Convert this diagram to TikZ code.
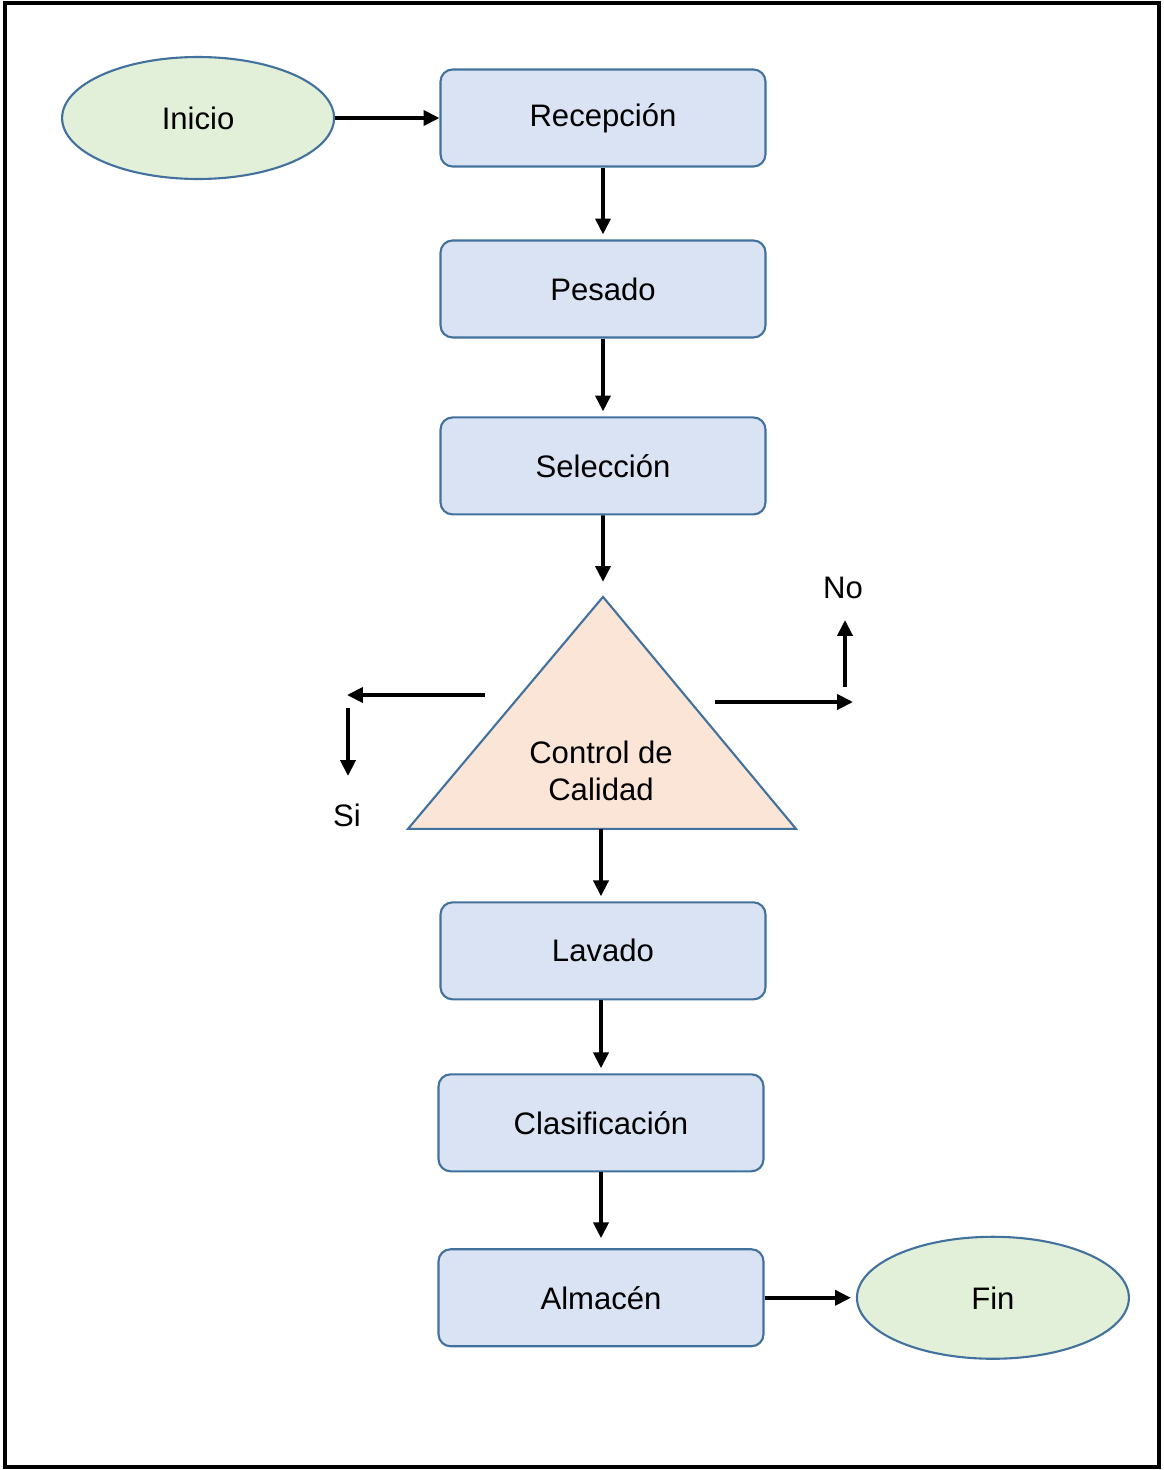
\documentclass[tikz,border=0pt]{standalone}
\usepackage{fontspec}
\setmainfont{Liberation Sans}
\usepackage{tikz}
\usetikzlibrary{arrows.meta}
\usetikzlibrary{shapes,shapes.geometric,calc,positioning}

\definecolor{boxfill}{HTML}{DAE3F3}
\definecolor{boxline}{HTML}{41719C}
\definecolor{endfill}{HTML}{E2F0D9}
\definecolor{ctrlfill}{HTML}{FBE5D6}

\tikzset{
  paso/.style={rectangle, rounded corners=0.24cm, draw=boxline, line width=1.2pt,
    fill=boxfill, minimum width=6.5cm, minimum height=1.94cm, inner sep=0pt},
  extremo/.style={ellipse, draw=boxline, line width=1.2pt, fill=endfill,
    minimum width=5.44cm, minimum height=2.44cm, inner sep=0pt},
  flecha/.style={->, line width=2.1pt},
}

\begin{document}
\begin{tikzpicture}[x=0.02cm,y=-0.02cm,>={Triangle[length=9pt,width=8.5pt]},node distance=3.48cm,
  font=\fontsize{17.7}{21}\selectfont]
\useasboundingbox (0,0) rectangle (1163,1470);
\draw[line width=2pt] (5,3) rectangle (1159,1467);

\node[paso] (rec) at (603,118) {Recepción};
\node[paso] (pes) [below of = rec, node distance=3.42cm] {Pesado};
\node[paso] (sel) [below of = pes, node distance=3.54cm] {Selección};
\node[align=center] (cal) [below of = sel, node distance=6.1cm, xshift=-0.04cm] {};
\coordinate (apex) at ($(cal)+(2,-174)$);
\coordinate (bl) at ($(cal)+(-193,58)$);
\coordinate (br) at ($(cal)+(195,58)$);
\coordinate (base) at ($(cal)+(0,58)$);
\draw[draw=boxline, line width=1.2pt, fill=ctrlfill] (apex) -- (bl) -- (br) -- cycle;
\node[align=center] at (cal) {Control de\\Calidad};
\node[paso] (lav) [below of = sel, node distance=9.7cm] {Lavado};
\node[paso] (cla) [below of = lav, node distance=3.44cm, xshift=-0.04cm] {Clasificación};
\node[paso] (alm) [below of = cla, node distance=3.5cm] {Almacén};

\node[extremo] (ini) [left of = rec, node distance=8.1cm] {Inicio};
\node[extremo] (fin) [right of = alm, node distance=7.84cm] {Fin};

\node (si) at (347,815) {Si};
\node (no) at (843,588) {No};

\coordinate (si1) at (485,695);
\coordinate (si2) at (347,695);
\coordinate (si3) at (348,708);
\coordinate (si4) at (348,776);
\coordinate (no1) at (715,702);
\coordinate (no2) at (853,702);
\coordinate (no3) at (845,687);
\coordinate (no4) at (845,620);

\draw[flecha] (ini) -- (rec);
\draw[flecha, shorten >=0.1cm] (rec) -- (pes);
\draw[flecha, shorten >=0.1cm] (pes) -- (sel);
\draw[flecha, shorten >=0.3cm] (sel) -- (apex);
\draw[flecha, shorten >=0.1cm] (base) -- (lav.north -| base);
\draw[flecha, shorten >=0.1cm] (lav.south -| cla) -- (cla);
\draw[flecha, shorten >=0.2cm] (cla) -- (alm);
\draw[flecha, shorten >=0.1cm] (alm) -- (fin);

\draw[flecha] (si1) -- (si2);
\draw[flecha] (si3) -- (si4);
\draw[flecha] (no1) -- (no2);
\draw[flecha] (no3) -- (no4);
\end{tikzpicture}
\end{document}
